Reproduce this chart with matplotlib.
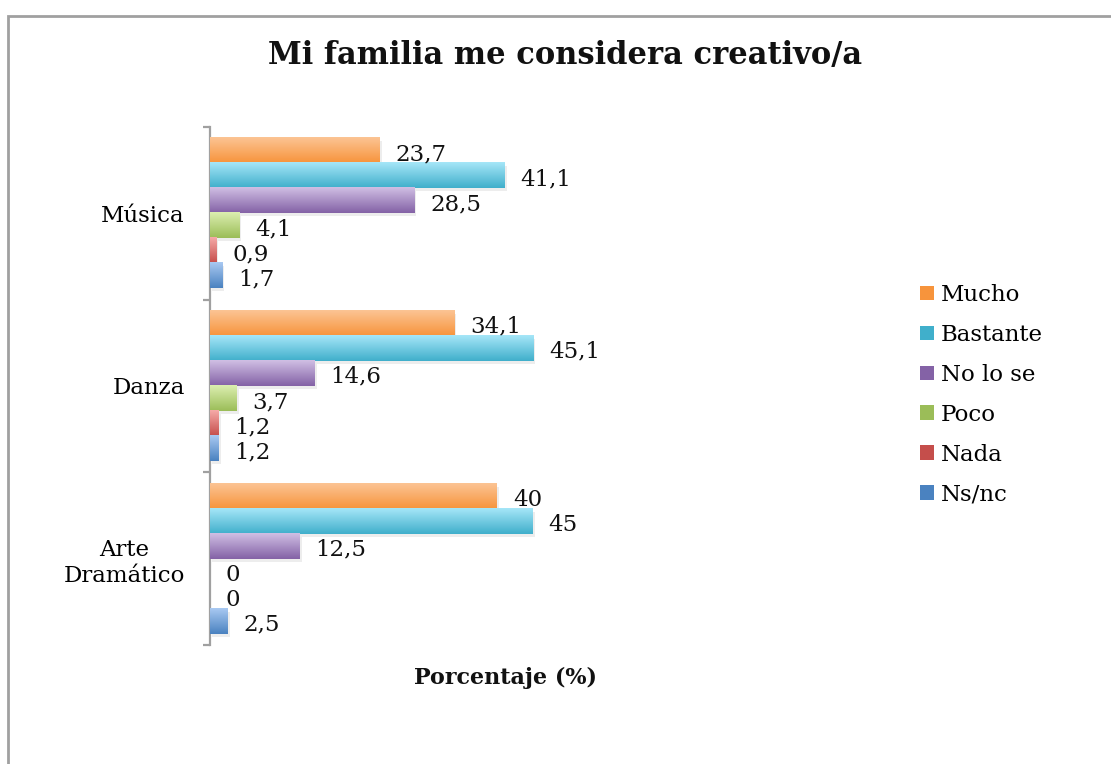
import numpy as np
import matplotlib.pyplot as plt
from matplotlib.patches import Patch, Rectangle
from matplotlib.colors import LinearSegmentedColormap
import matplotlib.transforms as mtransforms

# categorias (de arriba hacia abajo) y respuestas
categorias = ["Música", "Danza", "Arte\nDramático"]
respuestas = ["Mucho", "Bastante", "No lo se", "Poco", "Nada", "Ns/nc"]

mucho = [23.7, 34.1, 40]
bastante = [41.1, 45.1, 45]
no_lo_se = [28.5, 14.6, 12.5]
poco = [4.1, 3.7, 0]
nada = [0.9, 1.2, 0]
ns_nc = [1.7, 1.2, 2.5]

etiquetas = [
    ["23,7", "34,1", "40"],
    ["41,1", "45,1", "45"],
    ["28,5", "14,6", "12,5"],
    ["4,1", "3,7", "0"],
    ["0,9", "1,2", "0"],
    ["1,7", "1,2", "2,5"],
]

# degradado de cada serie: (arriba, abajo)
colores = [
    ("#fcc494", "#f7943c"),
    ("#a6e6f8", "#40afcb"),
    ("#d0bfe4", "#8462a6"),
    ("#dcefb0", "#9bbd58"),
    ("#f6aaa8", "#c54e4b"),
    ("#a9c9f2", "#4a82c0"),
]

series = [mucho, bastante, no_lo_se, poco, nada, ns_nc]

plt.rcParams["font.family"] = ["DejaVu Serif"]

fig = plt.figure(figsize=(11.11, 7.64), dpi=100)
ax = fig.add_axes([0.189, 0.1558, 0.3227, 0.678])

centros = np.arange(len(categorias))[::-1]
alto = 0.145

for i, (vals, (c_top, c_bot)) in enumerate(zip(series, colores)):
    y = centros + (2.5 - i) * alto
    barras = ax.barh(y, vals, height=alto, color=c_bot, linewidth=0, zorder=2)
    cmap = LinearSegmentedColormap.from_list(f"g{i}", [c_bot, c_top])
    for b in barras:
        w = b.get_width()
        if w <= 0:
            continue
        x0, y0, h = b.get_x(), b.get_y(), b.get_height()
        # sombra suave
        sombra = Rectangle((x0, y0), w, h, facecolor="#000000", alpha=0.07,
                           linewidth=0, zorder=1,
                           transform=ax.transData + mtransforms.ScaledTranslation(
                               2 / 100, -3 / 100, fig.dpi_scale_trans))
        ax.add_patch(sombra)
        grad = np.linspace(0, 1, 64).reshape(-1, 1)
        ax.imshow(grad, extent=(x0, x0 + w, y0, y0 + h), origin="lower",
                  cmap=cmap, aspect="auto", zorder=3, interpolation="bilinear")
    for yy, v, txt in zip(y, vals, etiquetas[i]):
        ax.annotate(txt, xy=(v, yy), xytext=(11.5, -2.5), textcoords="offset points",
                    ha="left", va="center", fontsize=16.5, color="#111111", zorder=4)

ax.set_xlim(0, 50)
ax.set_ylim(-0.5, 2.5)

for s in ["top", "right", "bottom"]:
    ax.spines[s].set_visible(False)
ax.spines["left"].set_color("#a0a0a0")
ax.spines["left"].set_linewidth(1.6)
ax.set_xticks([])
ax.set_yticks(centros)
ax.set_yticklabels(categorias, fontsize=16.5, multialignment="center")
ax.tick_params(axis="y", which="major", length=0, pad=18)
ax.set_yticks([-0.5, 0.5, 1.5, 2.5], minor=True)
ax.tick_params(axis="y", which="minor", length=5, width=1.6, color="#a0a0a0")

fig.text(0.509, 0.928, "Mi familia me considera creativo/a", ha="center", va="center",
         fontsize=22, fontweight="bold", color="#111111")
fig.text(0.455, 0.112, "Porcentaje (%)", ha="center", va="center",
         fontsize=16, fontweight="bold", color="#111111")

handles = [Patch(facecolor=c_bot, edgecolor="none") for _, c_bot in colores]
fig.legend(handles, respuestas, loc="upper left", bbox_to_anchor=(0.818, 0.643),
           frameon=False, fontsize=16.5, handlelength=0.6, handleheight=0.6,
           handletextpad=0.3, labelspacing=0.78, borderpad=0)

# marco exterior
fig.patches.append(Rectangle((0.0075, -0.1), 1.2, 0.979 + 0.1, transform=fig.transFigure,
                             fill=False, edgecolor="#a0a0a0", linewidth=2))

fig.savefig("out.png", dpi=100)
